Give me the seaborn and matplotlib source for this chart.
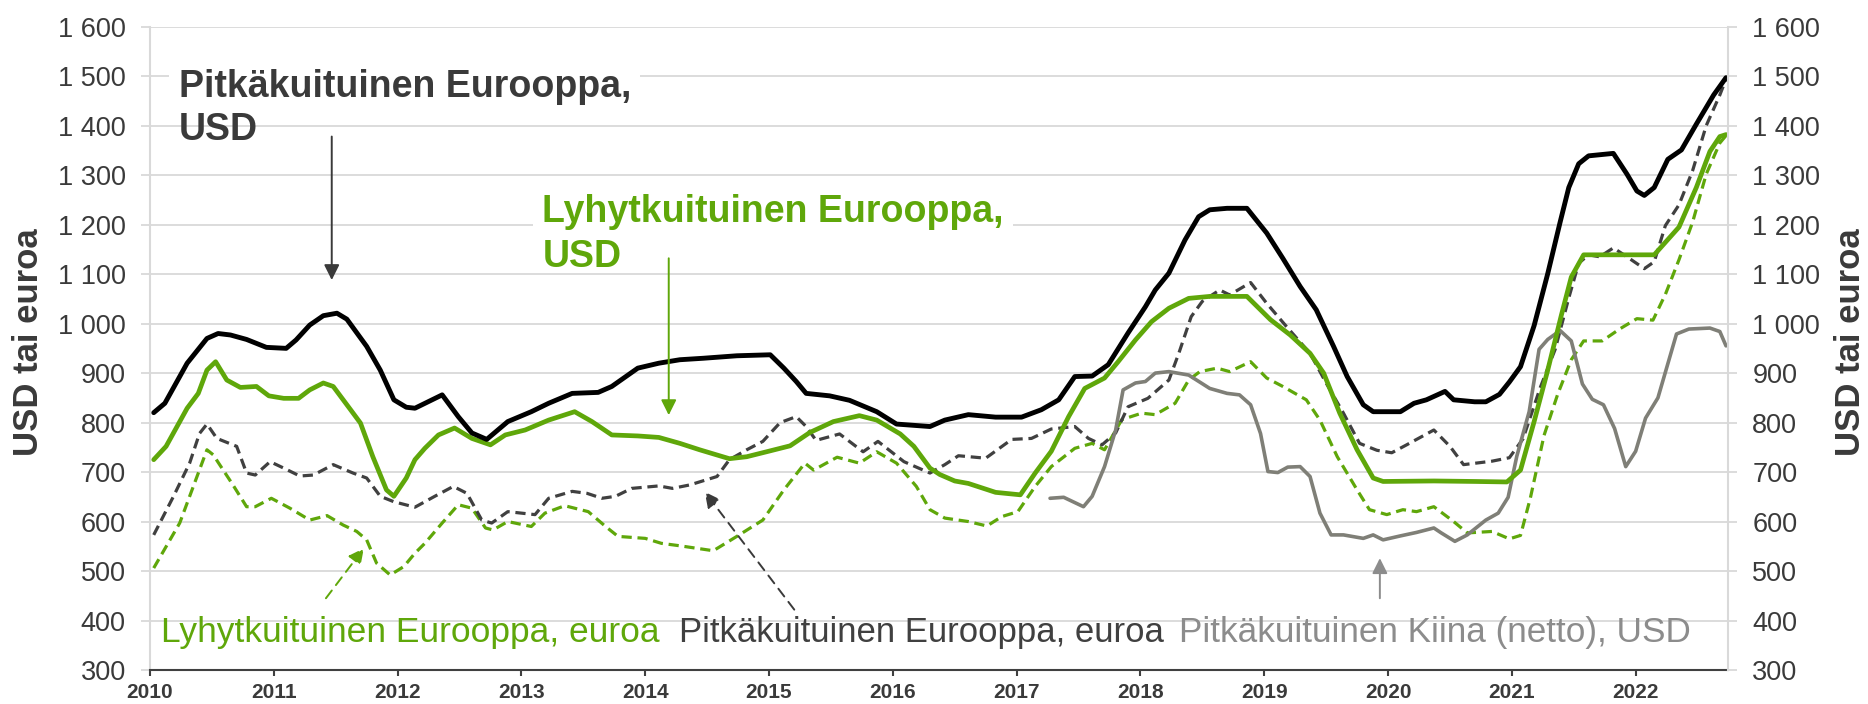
import numpy as np
import pandas as pd
import matplotlib
matplotlib.use("Agg")
import matplotlib.pyplot as plt
from matplotlib.ticker import FuncFormatter
import seaborn as sns

# ---------------- data (decimal year, value) ----------------
PE_USD_X = [2010.03, 2010.12, 2010.30, 2010.46, 2010.55, 2010.65, 2010.78, 2010.94, 2011.10, 2011.18,
            2011.29, 2011.40, 2011.51, 2011.59, 2011.75, 2011.86, 2011.97, 2012.07, 2012.14, 2012.36,
            2012.49, 2012.60, 2012.72, 2012.89, 2013.08, 2013.22, 2013.41, 2013.62, 2013.73, 2013.94,
            2014.11, 2014.28, 2014.47, 2014.74, 2015.01, 2015.12, 2015.22, 2015.30, 2015.49, 2015.65,
            2015.87, 2016.03, 2016.30, 2016.42, 2016.61, 2016.83, 2017.04, 2017.20, 2017.34, 2017.47,
            2017.61, 2017.74, 2017.90, 2018.04, 2018.12, 2018.23, 2018.36, 2018.47, 2018.56, 2018.70,
            2018.86, 2019.02, 2019.15, 2019.29, 2019.42, 2019.56, 2019.67, 2019.80, 2019.88, 2020.10,
            2020.21, 2020.31, 2020.46, 2020.53, 2020.70, 2020.79, 2020.90, 2020.98, 2021.07, 2021.18,
            2021.29, 2021.39, 2021.46, 2021.54, 2021.62, 2021.82, 2021.93, 2022.01, 2022.07, 2022.15,
            2022.26, 2022.37, 2022.49, 2022.63, 2022.73]
PE_USD_Y = [820, 839, 920, 970, 980, 977, 968, 952, 950, 967,
            997, 1016, 1021, 1009, 954, 906, 846, 831, 829, 856,
            812, 779, 766, 802, 822, 839, 859, 861, 873, 910,
            920, 927, 930, 935, 937, 910, 883, 859, 854, 845,
            822, 797, 792, 805, 816, 811, 811, 826, 846, 893,
            894, 917, 981, 1034, 1068, 1102, 1169, 1216, 1230, 1233,
            1233, 1183, 1132, 1075, 1028, 954, 893, 836, 822, 822,
            839, 846, 863, 846, 842, 842, 857, 882, 913, 996,
            1101, 1205, 1275, 1323, 1339, 1344, 1302, 1268, 1259, 1275,
            1332, 1351, 1403, 1462, 1497]

LE_USD_X = [2010.03, 2010.13, 2010.30, 2010.39, 2010.46, 2010.53, 2010.62, 2010.73, 2010.86, 2010.96,
            2011.08, 2011.20, 2011.29, 2011.40, 2011.48, 2011.62, 2011.70, 2011.80, 2011.91, 2011.97,
            2012.07, 2012.14, 2012.22, 2012.33, 2012.46, 2012.60, 2012.75, 2012.87, 2013.03, 2013.22,
            2013.43, 2013.57, 2013.73, 2013.94, 2014.11, 2014.28, 2014.44, 2014.68, 2014.82, 2014.98,
            2015.17, 2015.33, 2015.52, 2015.73, 2015.87, 2016.06, 2016.17, 2016.30, 2016.38, 2016.50,
            2016.61, 2016.83, 2017.03, 2017.15, 2017.28, 2017.42, 2017.55, 2017.71, 2017.82, 2017.96,
            2018.09, 2018.23, 2018.39, 2018.56, 2018.86, 2019.05, 2019.21, 2019.37, 2019.48, 2019.61,
            2019.75, 2019.88, 2019.96, 2020.37, 2020.70, 2020.96, 2021.07, 2021.18, 2021.29, 2021.40,
            2021.48, 2021.58, 2021.87, 2022.15, 2022.35, 2022.49, 2022.60, 2022.68, 2022.73]
LE_USD_Y = [725, 752, 829, 859, 906, 923, 886, 871, 873, 854,
            849, 849, 866, 880, 873, 826, 799, 731, 664, 651,
            688, 725, 748, 775, 789, 768, 755, 775, 785, 805,
            822, 802, 775, 773, 770, 758, 745, 727, 731, 741,
            753, 780, 802, 814, 805, 777, 752, 708, 695, 682,
            677, 659, 654, 698, 742, 812, 869, 890, 923, 967,
            1004, 1031, 1051, 1055, 1055, 1008, 977, 940, 900, 819,
            745, 688, 681, 682, 681, 680, 704, 802, 906, 1017,
            1094, 1139, 1139, 1139, 1195, 1275, 1348, 1378, 1382]

PE_EUR_X = [2010.03, 2010.19, 2010.32, 2010.40, 2010.46, 2010.54, 2010.70, 2010.78, 2010.85, 2010.97,
            2011.08, 2011.21, 2011.32, 2011.48, 2011.64, 2011.75, 2011.86, 2011.97, 2012.14, 2012.30,
            2012.45, 2012.56, 2012.68, 2012.76, 2012.89, 2013.11, 2013.22, 2013.41, 2013.53, 2013.65,
            2013.76, 2013.89, 2014.11, 2014.22, 2014.36, 2014.58, 2014.68, 2014.82, 2014.95, 2015.09,
            2015.22, 2015.30, 2015.38, 2015.57, 2015.76, 2015.88, 2016.09, 2016.30, 2016.42, 2016.53,
            2016.75, 2016.96, 2017.12, 2017.28, 2017.47, 2017.58, 2017.69, 2017.80, 2017.90, 2018.06,
            2018.23, 2018.31, 2018.41, 2018.50, 2018.64, 2018.72, 2018.89, 2019.02, 2019.18, 2019.37,
            2019.50, 2019.64, 2019.77, 2019.91, 2020.03, 2020.15, 2020.37, 2020.50, 2020.61, 2020.84,
            2020.98, 2021.09, 2021.23, 2021.35, 2021.46, 2021.54, 2021.62, 2021.71, 2021.82, 2021.93,
            2022.07, 2022.15, 2022.24, 2022.35, 2022.46, 2022.57, 2022.68, 2022.73]
PE_EUR_Y = [573, 651, 718, 778, 797, 768, 752, 698, 694, 721,
            708, 692, 694, 715, 698, 688, 651, 640, 629, 651,
            671, 657, 603, 597, 620, 614, 647, 661, 657, 647,
            651, 667, 672, 667, 674, 691, 725, 745, 762, 800,
            812, 792, 764, 777, 741, 762, 721, 698, 715, 733,
            728, 766, 768, 787, 792, 768, 755, 779, 832, 849,
            886, 940, 1014, 1045, 1068, 1058, 1083, 1041, 994, 940,
            880, 819, 758, 744, 739, 755, 785, 752, 715, 722,
            729, 767, 871, 948, 1052, 1122, 1139, 1135, 1153, 1135,
            1111, 1125, 1198, 1240, 1309, 1400, 1462, 1494]

LE_EUR_X = [2010.03, 2010.24, 2010.35, 2010.46, 2010.51, 2010.67, 2010.78, 2010.85, 2010.98, 2011.13,
            2011.29, 2011.43, 2011.56, 2011.67, 2011.75, 2011.83, 2011.94, 2012.05, 2012.14, 2012.22,
            2012.36, 2012.49, 2012.60, 2012.71, 2012.77, 2012.89, 2013.08, 2013.19, 2013.35, 2013.54,
            2013.68, 2013.78, 2014.00, 2014.13, 2014.28, 2014.55, 2014.74, 2014.95, 2015.12, 2015.29,
            2015.36, 2015.55, 2015.73, 2015.87, 2016.03, 2016.19, 2016.30, 2016.42, 2016.61, 2016.76,
            2016.88, 2017.01, 2017.15, 2017.28, 2017.47, 2017.61, 2017.71, 2017.85, 2018.01, 2018.12,
            2018.28, 2018.39, 2018.48, 2018.62, 2018.72, 2018.89, 2019.02, 2019.15, 2019.34, 2019.45,
            2019.59, 2019.75, 2019.85, 2019.99, 2020.12, 2020.23, 2020.37, 2020.53, 2020.64, 2020.84,
            2020.98, 2021.07, 2021.15, 2021.26, 2021.37, 2021.48, 2021.58, 2021.73, 2021.87, 2022.01,
            2022.14, 2022.24, 2022.35, 2022.46, 2022.57, 2022.68, 2022.73]
LE_EUR_Y = [506, 597, 671, 745, 735, 674, 630, 630, 647, 627,
            603, 612, 593, 580, 563, 516, 492, 509, 536, 556,
            597, 634, 627, 587, 583, 600, 590, 617, 632, 620,
            590, 570, 566, 556, 551, 541, 570, 603, 664, 718,
            704, 730, 718, 741, 718, 671, 624, 607, 600, 591,
            610, 620, 671, 711, 748, 758, 745, 806, 819, 816,
            839, 886, 903, 910, 903, 923, 890, 873, 846, 805,
            731, 664, 624, 614, 624, 620, 630, 600, 577, 580,
            565, 572, 648, 774, 857, 927, 965, 965, 989, 1010,
            1007, 1059, 1129, 1205, 1302, 1365, 1380]

PK_USD_X = [2017.27, 2017.38, 2017.54, 2017.61, 2017.71, 2017.80, 2017.86, 2017.96, 2018.04, 2018.12,
            2018.23, 2018.39, 2018.56, 2018.70, 2018.80, 2018.89, 2018.97, 2019.03, 2019.11, 2019.19,
            2019.29, 2019.37, 2019.45, 2019.54, 2019.64, 2019.80, 2019.88, 2019.96, 2020.10, 2020.23,
            2020.37, 2020.43, 2020.54, 2020.64, 2020.79, 2020.89, 2020.97, 2021.04, 2021.14, 2021.22,
            2021.29, 2021.39, 2021.48, 2021.57, 2021.65, 2021.74, 2021.83, 2021.92, 2022.00, 2022.08,
            2022.18, 2022.33, 2022.43, 2022.60, 2022.68, 2022.73]
PK_USD_Y = [647, 649, 630, 651, 711, 785, 866, 880, 883, 900,
            903, 896, 869, 859, 856, 836, 778, 701, 699, 710,
            711, 691, 617, 573, 573, 566, 573, 563, 571, 578,
            587, 577, 560, 573, 603, 617, 649, 732, 822, 948,
            968, 986, 965, 878, 847, 836, 788, 711, 742, 809,
            850, 979, 989, 991, 984, 955]

YEARS = list(range(2010, 2023))
Y_TICKS = list(range(300, 1601, 100))

LBL_PE_USD = "Pitkäkuituinen Eurooppa,"
LBL_LE_USD = "Lyhytkuituinen Eurooppa,"
LBL_LE_EUR = "Lyhytkuituinen Eurooppa, euroa"
LBL_PE_EUR = "Pitkäkuituinen Eurooppa, euroa"
LBL_PK_USD = "Pitkäkuituinen Kiina (netto), USD"
Y_LABEL = "USD tai euroa"

# ---------------- style ----------------
GREEN = "#5FA70A"
DARK = "#404040"
GRAY_LINE = "#7F7F77"
GRAY_TXT = "#8C8C8C"
GRID = "#D9D9D9"
TXT = "#3A3A3A"

sns.set_theme(style="white")
plt.rcParams["font.family"] = ["Liberation Sans", "DejaVu Sans"]

fig = plt.figure(figsize=(18.68, 7.04), dpi=100)
ax = fig.add_axes([150 / 1868, 1 - 670 / 704, (1728 - 150) / 1868, (670 - 26.7) / 704])

ax.set_xlim(2010, 2022.746)
ax.set_ylim(300, 1600)
ax.set_yticks(Y_TICKS)
ax.set_xticks(YEARS)
ax.grid(axis="y", color=GRID, linewidth=1.3, zorder=0)
ax.grid(axis="x", visible=False)
ax.set_axisbelow(True)

dash = (0, (3.2, 1.8))
sns.lineplot(x=LE_EUR_X, y=LE_EUR_Y, ax=ax, color=GREEN, linewidth=2.3, estimator=None, sort=False)
ax.lines[-1].set_linestyle(dash)
sns.lineplot(x=PE_EUR_X, y=PE_EUR_Y, ax=ax, color=DARK, linewidth=2.3, estimator=None, sort=False)
ax.lines[-1].set_linestyle(dash)
sns.lineplot(x=PK_USD_X, y=PK_USD_Y, ax=ax, color=GRAY_LINE, linewidth=2.6, estimator=None, sort=False)
sns.lineplot(x=LE_USD_X, y=LE_USD_Y, ax=ax, color=GREEN, linewidth=3.4, estimator=None, sort=False)
sns.lineplot(x=PE_USD_X, y=PE_USD_Y, ax=ax, color="black", linewidth=3.5, estimator=None, sort=False)
for ln in ax.lines:
    ln.set_solid_capstyle("round")
    ln.set_solid_joinstyle("round")
    ln.set_dash_capstyle("butt")
    ln.set_dash_joinstyle("round")

fmt = FuncFormatter(lambda v, p: f"{int(v):,}".replace(",", " "))
ax.yaxis.set_major_formatter(fmt)
ax.tick_params(axis="y", which="major", length=6.5, width=1.3, color=GRID, labelsize=19.5,
               labelcolor=TXT, pad=11, direction="out", left=True)
ax.tick_params(axis="x", which="major", length=4.3, width=1.5, color=DARK, labelsize=15,
               labelcolor=TXT, pad=5, direction="out", bottom=True)
for lab in ax.get_xticklabels():
    lab.set_fontweight("bold")

for s in ["top", "right"]:
    ax.spines[s].set_visible(False)
ax.spines["left"].set_color(GRID)
ax.spines["left"].set_linewidth(1.5)
ax.spines["bottom"].set_color(DARK)
ax.spines["bottom"].set_linewidth(1.5)
ax.set_xlabel("")
ax.set_ylabel("")

ax2 = ax.twinx()
ax2.set_ylim(300, 1600)
ax2.set_yticks(Y_TICKS)
ax2.yaxis.set_major_formatter(fmt)
ax2.tick_params(axis="y", length=6.5, width=1.3, color=GRID, labelsize=19.5, labelcolor=TXT,
                pad=11, direction="out", right=True)
ax2.grid(False)
for s in ["top", "left", "bottom"]:
    ax2.spines[s].set_visible(False)
ax2.spines["right"].set_color(GRID)
ax2.spines["right"].set_linewidth(1.5)

fig.text(29 / 1868, 1 - 342.5 / 704, Y_LABEL, rotation=90, ha="center", va="center",
         fontsize=25, fontweight="bold", color=TXT)
fig.text(1851 / 1868, 1 - 342.5 / 704, Y_LABEL, rotation=90, ha="center", va="center",
         fontsize=25, fontweight="bold", color=TXT)

# ---------------- annotations ----------------
box = dict(boxstyle="square,pad=0.25", facecolor="white", edgecolor="none")
ax.text(2010.232, 1458.6, LBL_PE_USD, fontsize=27, fontweight="bold", color=TXT,
        ha="left", va="baseline", bbox=box, zorder=4)
ax.text(2010.232, 1371, "USD", fontsize=27, fontweight="bold", color=TXT,
        ha="left", va="baseline", zorder=4)
ax.text(2013.17, 1206, LBL_LE_USD, fontsize=27, fontweight="bold", color=GREEN,
        ha="left", va="baseline", bbox=box, zorder=4)
ax.text(2013.17, 1115, "USD", fontsize=27, fontweight="bold", color=GREEN,
        ha="left", va="baseline", zorder=4)

ax.text(2010.09, 355.6, LBL_LE_EUR, fontsize=25.5, color=GREEN, ha="left", va="baseline", zorder=4)
ax.text(2014.27, 355.6, LBL_PE_EUR, fontsize=25, color=DARK, ha="left", va="baseline", zorder=4)
ax.text(2018.31, 355.6, LBL_PK_USD, fontsize=25.3, color=GRAY_TXT, ha="left", va="baseline", zorder=4)

arrow_style = "-|>,head_length=0.4,head_width=0.2"
ax.annotate("", xy=(2011.468, 1088), xytext=(2011.468, 1378),
            arrowprops=dict(arrowstyle=arrow_style, mutation_scale=23, color=TXT, lw=1.4,
                            shrinkA=0, shrinkB=0))
ax.annotate("", xy=(2014.19, 815), xytext=(2014.19, 1132),
            arrowprops=dict(arrowstyle=arrow_style, mutation_scale=23, color=GREEN, lw=1.4,
                            shrinkA=0, shrinkB=0))
ax.annotate("", xy=(2011.727, 546), xytext=(2011.421, 445),
            arrowprops=dict(arrowstyle=arrow_style, mutation_scale=23, color=GREEN, lw=1.4,
                            linestyle=(0, (5, 3.5)), shrinkA=0, shrinkB=0))
ax.annotate("", xy=(2014.481, 660), xytext=(2015.204, 422),
            arrowprops=dict(arrowstyle=arrow_style, mutation_scale=23, color=TXT, lw=1.4,
                            linestyle=(0, (5, 3.5)), shrinkA=0, shrinkB=0))
ax.annotate("", xy=(2019.934, 526), xytext=(2019.934, 445),
            arrowprops=dict(arrowstyle=arrow_style, mutation_scale=23, color=GRAY_TXT, lw=1.4,
                            shrinkA=0, shrinkB=0))

fig.savefig("out.png", dpi=100, facecolor="white")
